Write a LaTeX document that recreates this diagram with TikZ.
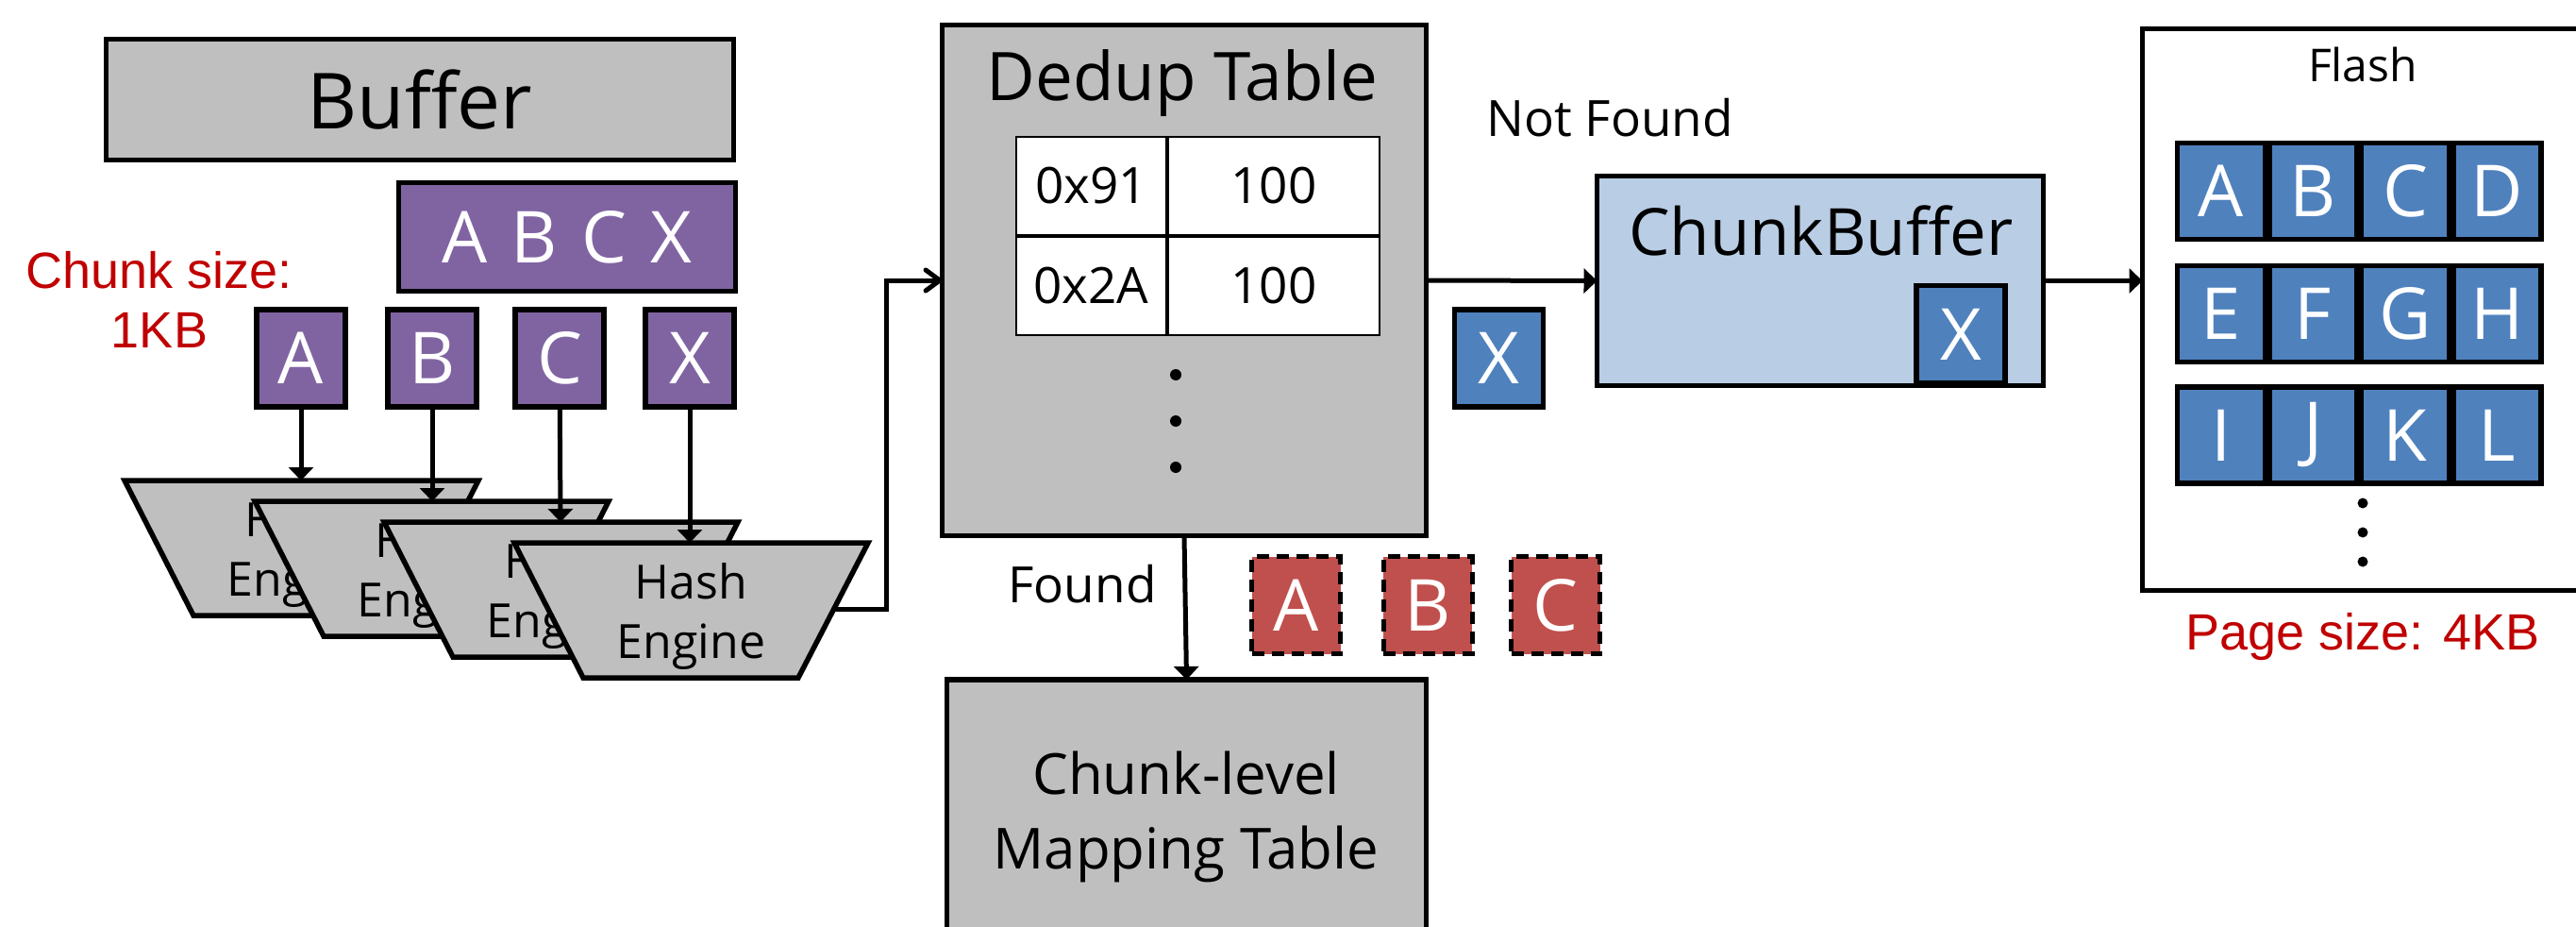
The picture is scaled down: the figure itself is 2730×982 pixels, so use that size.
\documentclass[tikz,border=0pt]{standalone}
\usepackage{fontspec}
\setmainfont{Open Sans}
\newfontfamily\redfont{Liberation Sans}
\usetikzlibrary{arrows.meta}
\definecolor{grayfill}{HTML}{BFBFBF}
\definecolor{purplefill}{HTML}{8064A2}
\definecolor{bluefill}{HTML}{4F81BD}
\definecolor{lightbluefill}{HTML}{B9CDE5}
\definecolor{redfill}{HTML}{C0504D}
\definecolor{redtext}{HTML}{C00000}
\newcommand\fsz[2]{\fontsize{#1}{#2}\selectfont}
\begin{document}
\begin{tikzpicture}[x=1pt,y=-1pt,
  box/.style={draw, line width=5.5pt, inner sep=0pt, outer sep=0pt},
  sz/.style 2 args={minimum width=#1pt, minimum height=#2pt},
  graybox/.style={box, fill=grayfill},
  letterbox/.style={box, sz={94}{103}, text=white, font=\fsz{76}{84}},
  purplebox/.style={letterbox, fill=purplefill},
  bluebox/.style={letterbox, fill=bluefill},
  redbox/.style={letterbox, fill=redfill, dash pattern=on 13pt off 8pt, line width=5pt},
  fcell/.style={box, sz={93}{102}, fill=bluefill, text=white, font=\fsz{76}{84}},
  tcell/.style={draw, line width=2.5pt, fill=white, inner sep=0pt, minimum height=104pt, font=\fsz{53}{60}},
  trap/.style={draw, line width=5.5pt, fill=grayfill, line join=miter},
  hashtext/.style={align=center, font=\fsz{50}{63}},
  conn/.style={line width=5pt, -{Triangle[length=14pt,width=26pt]}},
  lbl/.style={font=\fsz{53}{60}},
  redlbl/.style={font=\redfont\fsz{54}{63}, text=redtext, align=center},
  dot/.style={fill=black, draw=none}
]
\path[use as bounding box] (0,0) rectangle (2730,982);
\clip (0,0) rectangle (2730,982);

% Buffer and chunks
\node[graybox, sz={665}{128}, font=\fsz{82}{90}] (buffer) at (445,105.5) {Buffer};
\node[box, fill=purplefill, sz={357}{115}, text=white, font=\fsz{76}{84}] (abcx) at (601,251) {A\hspace{25pt}B\hspace{25pt}C\hspace{25pt}X};
\node[redlbl] (chunksize) at (169,317) {Chunk size:\\1KB};
\node[purplebox] (ca) at (319,379.5) {A};
\node[purplebox] (cb) at (458,379.5) {B};
\node[purplebox] (cc) at (593,379.5) {C};
\node[purplebox] (cx) at (731,379.5) {X};

% Hash engines
\filldraw[trap] (132,509) -- (507,509) -- (434,652) -- (205,652) -- cycle;
\node[hashtext] (h1) at (319.5,587.5) {Hash\\Engine};
\filldraw[trap] (270,531) -- (645,531) -- (572,674) -- (343,674) -- cycle;
\node[hashtext] (h2) at (457.5,609.5) {Hash\\Engine};
\filldraw[trap] (407,553) -- (782,553) -- (709,696) -- (480,696) -- cycle;
\node[hashtext] (h3) at (594.5,631.5) {Hash\\Engine};
\filldraw[trap] (545,575) -- (920,575) -- (846,718) -- (618,718) -- cycle;
\node[hashtext] (h4) at (732.5,653.5) {Hash\\Engine};
\coordinate (t1n) at (319,509);
\coordinate (t2n) at (458,531);
\coordinate (t3n) at (594,553);
\coordinate (t4n) at (731,575);
\coordinate (t4r) at (884,645);
\coordinate (turn) at (939,297);
\draw[conn] (ca) -- (t1n);
\draw[conn] (cb) -- (t2n);
\draw[conn] (cc) -- (t3n);
\draw[conn] (cx) -- (t4n);

% Dedup table
\node[graybox, sz={513}{541}] (dedup) at (1255,297) {};
\node[font=\fsz{71}{80}] (deduptitle) at (1253,88) {Dedup Table};
\node[tcell, minimum width=159pt] (c11) at (1156.5,197) {0x91};
\node[tcell, minimum width=224pt] (c12) at (1350,197) {100};
\node[tcell, minimum width=159pt] (c21) at (1156.5,303) {0x2A};
\node[tcell, minimum width=224pt] (c22) at (1350,303) {100};
\fill[dot] (1246,397) circle (6);
\fill[dot] (1246,446) circle (6);
\fill[dot] (1246,495) circle (6);
\draw[line width=5pt, -{Straight Barb[length=15pt,width=22pt,round]}] (t4r) -| (turn) -- (dedup.west);

% Not found path
\node[lbl] (notfound) at (1706,125) {Not Found};
\node[box, fill=lightbluefill, sz={473}{222}] (cbuf) at (1929,297.5) {};
\node[font=\fsz{69}{80}] (cbuftitle) at (1930,244) {ChunkBuffer};
\node[bluebox] (xin) at (2078,354) {X};
\node[bluebox] (xmove) at (1588.5,379.5) {X};
\draw[conn] (dedup.east) -- (cbuf.west);

% Found path
\node[lbl] (found) at (1147,619) {Found};
\node[graybox, sz={508}{270}] (mapping) at (1257.5,855) {};
\node[align=center, font=\fsz{60}{79}] (maptext) at (1257,865) {Chunk-level\\Mapping Table};
\draw[conn] (dedup.south) -- (mapping.north);
\node[redbox] (ra) at (1373.5,641) {A};
\node[redbox] (rb) at (1513,641) {B};
\node[redbox] (rc) at (1648.5,641) {C};

% Flash
\node[box, fill=white, sz={467}{595}] (flash) at (2504,328) {};
\node[font=\fsz{48}{56}] (flashtitle) at (2504,68) {Flash};
\foreach \l [count=\i from 0] in {A,B,C,D} \node[fcell] (f\l) at (2354+97.5*\i,202.5) {\l};
\foreach \l [count=\i from 0] in {E,F,G,H} \node[fcell] (f\l) at (2354+97.5*\i,332.5) {\l};
\foreach \l [count=\i from 0] in {I,J,K,L} \node[fcell] (f\l) at (2354+97.5*\i,461) {\l};
\fill[dot] (2504,533) circle (5.5);
\fill[dot] (2504,564) circle (5.5);
\fill[dot] (2504,595) circle (5.5);
\node[redlbl, anchor=base] (pagesize) at (2504,688) {Page size: 4KB};
\draw[conn] (cbuf.east) -- (cbuf.east -| flash.west);
\end{tikzpicture}
\end{document}
